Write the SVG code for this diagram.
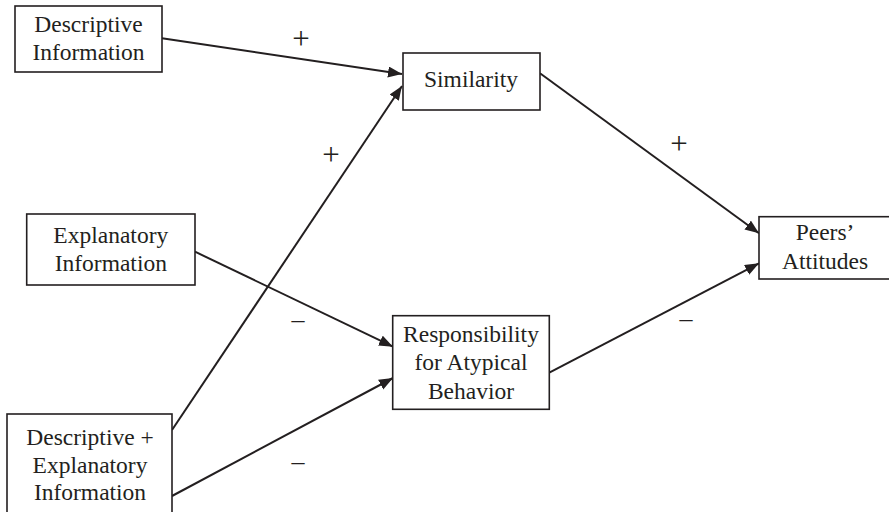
<svg xmlns="http://www.w3.org/2000/svg" width="889" height="512" viewBox="0 0 889 512">
<style>
  .box { fill: #fff; stroke: #231f20; stroke-width: 1.6; }
  .t { font-family: "Liberation Serif", "Times New Roman", serif; font-size: 23.5px; fill: #231f20; text-anchor: middle; }
  .edge { stroke: #231f20; stroke-width: 2; fill: none; marker-end: url(#arr); }
  .lbl { font-family: "Liberation Serif", "Times New Roman", serif; font-size: 26px; fill: #231f20; text-anchor: middle; }
  .plus { font-family: "Liberation Serif", "Times New Roman", serif; font-size: 31px; fill: #231f20; text-anchor: middle; }
</style>
<defs>
  <marker id="arr" markerUnits="userSpaceOnUse" markerWidth="16" markerHeight="12" refX="14" refY="5.5" orient="auto">
    <path d="M0,0 L14,5.5 L0,11 z" fill="#231f20"/>
  </marker>
</defs>
<rect width="889" height="512" fill="#fff"/>
<g id="connectors">
  <line class="edge" x1="162" y1="38.3" x2="402" y2="74"/>
  <line class="edge" x1="172" y1="430" x2="402" y2="86"/>
  <line class="edge" x1="540" y1="73.3" x2="759" y2="233.3"/>
  <line class="edge" x1="195" y1="251.7" x2="393" y2="346.7"/>
  <line class="edge" x1="172" y1="496" x2="393" y2="378"/>
  <line class="edge" x1="549.3" y1="372.7" x2="759" y2="263.3"/>
  <text class="plus" x="301" y="49">+</text>
  <text class="plus" x="331" y="165">+</text>
  <text class="plus" x="679" y="154">+</text>
  <text class="lbl" x="298" y="328">–</text>
  <text class="lbl" x="298" y="470">–</text>
  <text class="lbl" x="686" y="327">–</text>
</g>
<g id="descriptive">
  <rect class="box" x="15" y="6" width="147" height="66"/>
  <text class="t" x="88.5" y="31.5">Descriptive</text>
  <text class="t" x="88.5" y="60">Information</text>
</g>
<g id="similarity">
  <rect class="box" x="403" y="53" width="137" height="57"/>
  <text class="t" x="471" y="87">Similarity</text>
</g>
<g id="explanatory">
  <rect class="box" x="26.7" y="214" width="168.3" height="71"/>
  <text class="t" x="110.8" y="243.3">Explanatory</text>
  <text class="t" x="110.8" y="271">Information</text>
</g>
<g id="peers">
  <rect class="box" x="759" y="216.7" width="132" height="62.3"/>
  <text class="t" x="825" y="240">Peers’</text>
  <text class="t" x="825" y="269">Attitudes</text>
</g>
<g id="responsibility">
  <rect class="box" x="392.7" y="315.7" width="156.6" height="93.6"/>
  <text class="t" x="471" y="341.7">Responsibility</text>
  <text class="t" x="471" y="370">for Atypical</text>
  <text class="t" x="471" y="399">Behavior</text>
</g>
<g id="combined">
  <rect class="box" x="7" y="414" width="165" height="110"/>
  <text class="t" x="90" y="445">Descriptive +</text>
  <text class="t" x="90" y="472.5">Explanatory</text>
  <text class="t" x="90" y="500">Information</text>
</g>
</svg>
